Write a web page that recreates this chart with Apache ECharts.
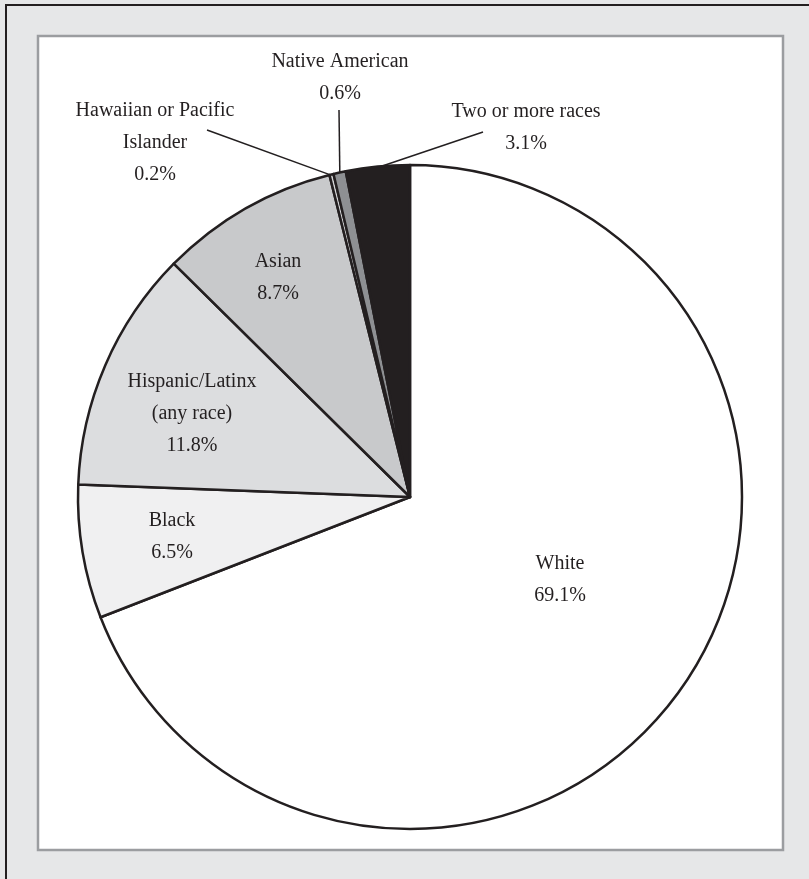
<!DOCTYPE html>
<html>
<head>
<meta charset="utf-8">
<script src="https://cdn.jsdelivr.net/npm/echarts@6/dist/echarts.min.js"></script>
<style>
html,body{margin:0;padding:0;background:#e6e7e8;}
#chart{width:809px;height:879px;}
</style>
</head>
<body>
<div id="chart"></div>
<script>
// ---- data ----
const categories = ['White', 'Black', 'Hispanic/Latinx\n(any race)', 'Asian', 'Hawaiian or Pacific\nIslander', 'Native American', 'Two or more races'];
const shares = [69.1, 6.5, 11.8, 8.7, 0.2, 0.6, 3.1];

// ---- styles / layout ----
const colors = ['#ffffff', '#f0f0f1', '#dcdddf', '#c8c9cb', '#d4d5d7', '#8e9093', '#231f20'];
const CX = 410, CY = 497, R = 332;
const labelCenter = {0: [560, 580], 1: [172, 537], 2: [192, 414], 3: [278, 278], 4: [155, 143], 5: [340, 78], 6: [526, 128]};
const leaderEnd = {4: [207, 130], 5: [339, 110], 6: [483, 132]};
const ink = '#231f20';

const total = shares.reduce((a, b) => a + b, 0);
function midEdge(i) {
  let before = 0;
  for (let k = 0; k < i; k++) before += shares[k];
  const a = (before + shares[i] / 2) / total * 2 * Math.PI;
  return [CX + (R - 1) * Math.sin(a), CY - (R - 1) * Math.cos(a)];
}

const data = categories.map((c, i) => ({
  name: c,
  value: shares[i],
  itemStyle: {color: colors[i]},
  label: {position: leaderEnd[i] ? 'outside' : 'inside'},
  labelLine: {show: !!leaderEnd[i]}
}));

const chart = echarts.init(document.getElementById('chart'), null, {renderer: 'canvas'});
chart.setOption({
  backgroundColor: '#e6e7e8',
  animation: false,
  graphic: [
    {type: 'rect', z: -100, silent: true, shape: {x: 5, y: 4, width: 804, height: 2}, style: {fill: ink}},
    {type: 'rect', z: -100, silent: true, shape: {x: 5, y: 4, width: 2, height: 875}, style: {fill: ink}},
    {type: 'rect', z: -100, silent: true, shape: {x: 38, y: 36, width: 745, height: 814}, style: {fill: '#ffffff', stroke: '#9b9da0', lineWidth: 2.5}}
  ],
  series: [{
    type: 'pie',
    center: [CX, CY],
    radius: [0, R],
    startAngle: 90,
    clockwise: true,
    avoidLabelOverlap: false,
    silent: true,
    itemStyle: {borderColor: ink, borderWidth: 2.5},
    label: {
      formatter: '{b}\n{c}%',
      fontFamily: 'Liberation Serif',
      fontSize: 20,
      lineHeight: 32,
      color: ink,
      align: 'center'
    },
    labelLine: {lineStyle: {color: ink, width: 1.5}},
    labelLayout: function (p) {
      const i = p.dataIndex;
      const c = labelCenter[i];
      const res = {x: c[0], y: c[1], align: 'center', verticalAlign: 'middle'};
      if (leaderEnd[i]) {
        const s = midEdge(i), e = leaderEnd[i];
        res.labelLinePoints = [s, e, e];
      }
      return res;
    },
    data: data
  }]
});
</script>
</body>
</html>
